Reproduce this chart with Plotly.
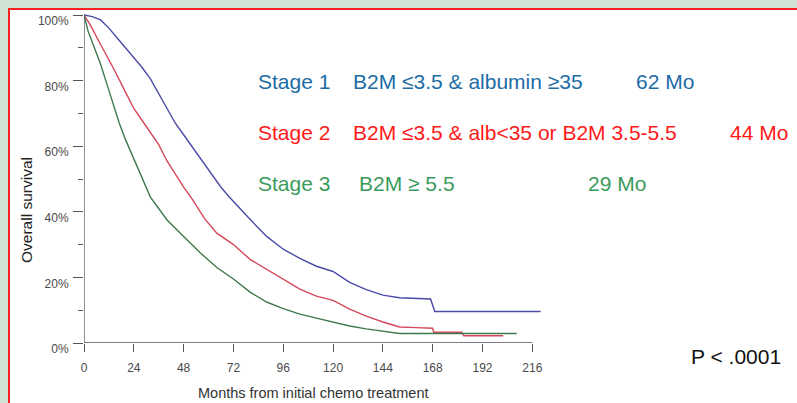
import plotly.graph_objects as go

# ---- data (months, overall survival %) ----
stage1_months = [0, 4, 8, 12, 16, 20, 24, 28, 32, 36, 40, 44, 48, 52, 56, 62, 66, 70, 75, 80, 88, 96, 104, 112, 120, 128, 136, 144, 152, 160, 167, 169, 220]
stage1_surv = [100, 99.5, 98.5, 96, 93, 90, 87, 84, 80.5, 76, 71.5, 67, 63.5, 60, 56.5, 51, 47.5, 44.5, 41, 37.7, 32.5, 28.6, 25.8, 23.4, 21.8, 18.5, 16.3, 14.6, 13.8, 13.6, 13.4, 9.6, 9.6]

stage2_months = [0, 3, 8, 14, 20, 24, 30, 36, 40, 44, 48, 52, 58, 64, 72, 80, 88, 96, 104, 112, 120, 128, 136, 144, 152, 160, 168, 168.5, 182, 183, 202]
stage2_surv = [100, 97, 91, 84, 76.5, 71.5, 66, 60.5, 55.5, 51.5, 47.5, 44, 38, 33.5, 30, 25.5, 22.5, 19.5, 16.4, 14.3, 13, 10.3, 8.2, 6.4, 4.9, 4.7, 4.5, 3.3, 3.3, 2.2, 2.2]

stage3_months = [0, 2, 5, 8, 11, 14, 17, 20, 24, 28, 32, 36, 40, 48, 56, 64, 72, 80, 88, 96, 104, 112, 120, 128, 136, 144, 152, 208.5]
stage3_surv = [100, 95, 90, 85, 79, 73, 67, 62, 56, 50, 44.5, 41, 37.5, 32.5, 27.5, 23, 19.5, 15.5, 12.5, 10.5, 8.8, 7.6, 6.4, 5.2, 4.3, 3.5, 2.9, 2.9]

x_ticks = [0, 24, 48, 72, 96, 120, 144, 168, 192, 216]
y_ticks = [0, 20, 40, 60, 80, 100]
y_tick_text = ["0%", "20%", "40%", "60%", "80%", "100%"]
y_minor = [10, 30, 50, 70, 90]

stage_labels = ["Stage 1", "Stage 2", "Stage 3"]
criteria = ["B2M \u22643.5 & albumin \u226535", "B2M \u22643.5 & alb<35 or B2M 3.5-5.5", "B2M \u2265 5.5"]
medians = ["62 Mo", "44 Mo", "29 Mo"]
p_text = "P < .0001"

# ---- layout geometry (pixels) ----
W, H = 797, 403
ML, MR, MT, MB = 84, 248, 12, 60
PW, PH = W - ML - MR, H - MT - MB
X_MAX = 216 * PW / 448.3
Y_MAX = 100 * PH / 328.0
BOTTOM = H - MB


def px(x):
    return (x - ML) / PW


def py(y):
    return (BOTTOM - y) / PH


curve_colors = ["#4b4ba8", "#d5475a", "#3e7a4e"]
text_colors = ["#1c6ca6", "#ff1a1a", "#3a9b5c"]

fig = go.Figure()
for xs, ys, c in [(stage1_months, stage1_surv, curve_colors[0]),
                  (stage2_months, stage2_surv, curve_colors[1]),
                  (stage3_months, stage3_surv, curve_colors[2])]:
    fig.add_trace(go.Scatter(x=xs, y=ys, mode="lines", line=dict(color=c, width=1.4),
                             showlegend=False, hoverinfo="skip"))

tick_font = dict(family="Liberation Sans, Arial", size=12, color="#4a4a4a")

fig.update_xaxes(range=[0, X_MAX], showline=False, showgrid=False, zeroline=False, automargin=False,
                 tickmode="array", tickvals=x_ticks, ticktext=[str(v) for v in x_ticks],
                 ticks="outside", ticklen=8, tickwidth=1, tickcolor="#555555",
                 tickfont=tick_font, ticklabelstandoff=6)
fig.update_yaxes(range=[0, Y_MAX], showline=False, showgrid=False, zeroline=False, automargin=False,
                 tickmode="array", tickvals=y_ticks, ticktext=y_tick_text,
                 ticks="outside", ticklen=10, tickwidth=1, tickcolor="#555555",
                 tickfont=tick_font, ticklabelstandoff=2, ticklabelshift=6,
                 minor=dict(tickmode="array", tickvals=y_minor, ticks="outside", ticklen=5,
                            tickwidth=1, tickcolor="#555555"))

shapes = [
    dict(type="rect", xref="paper", yref="paper", x0=px(9), x1=px(805), y0=py(9), y1=py(410),
         fillcolor="white", line=dict(color="#ff2020", width=2), layer="below"),
    dict(type="line", xref="x", yref="y", x0=0, x1=216, y0=0, y1=0,
         line=dict(color="#555555", width=1.3)),
    dict(type="line", xref="x", yref="y", x0=0, x1=0, y0=0, y1=100,
         line=dict(color="#555555", width=1.3)),
]

annotations = []
row_y = [81, 132, 183]
crit_x = [354, 354, 360]
med_x = [637, 731, 589]
for i in range(3):
    f = dict(family="Liberation Sans, Arial", size=21, color=text_colors[i])
    for txt, xx in [(stage_labels[i], 259), (criteria[i], crit_x[i]), (medians[i], med_x[i])]:
        annotations.append(dict(text=txt, x=px(xx - 3), y=py(row_y[i]), xref="paper", yref="paper",
                                xanchor="left", yanchor="middle", showarrow=False, font=f))
annotations.append(dict(text=p_text, x=px(692 - 3), y=py(356), xref="paper", yref="paper",
                        xanchor="left", yanchor="middle", showarrow=False,
                        font=dict(family="Liberation Sans, Arial", size=21, color="#111111")))
annotations.append(dict(text="Months from initial chemo treatment", x=px(313), y=py(393), xref="paper", yref="paper",
                        xanchor="center", yanchor="middle", showarrow=False,
                        font=dict(family="Liberation Sans, Arial", size=14.5, color="#333333")))
annotations.append(dict(text="Overall survival", x=px(26), y=py(210), xref="paper", yref="paper",
                        xanchor="center", yanchor="middle", showarrow=False, textangle=-90,
                        font=dict(family="Liberation Sans, Arial", size=15.5, color="#222222")))

fig.update_layout(width=W, height=H, margin=dict(l=ML, r=MR, t=MT, b=MB, pad=0, autoexpand=False),
                  paper_bgcolor="#cfe4d5", plot_bgcolor="rgba(0,0,0,0)",
                  shapes=shapes, annotations=annotations, showlegend=False)

fig.write_html("out.html", config={"displayModeBar": False})
